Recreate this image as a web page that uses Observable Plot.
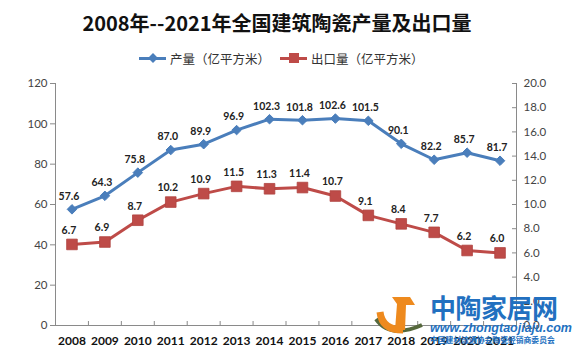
<!DOCTYPE html>
<html><head><meta charset="utf-8">
<script src="https://cdn.jsdelivr.net/npm/d3@7"></script>
<script src="https://cdn.jsdelivr.net/npm/@observablehq/plot@0.6"></script>
<style>
body{margin:0;background:#fff;width:572px;height:362px;overflow:hidden;position:relative;font-family:Lato,"Noto Sans CJK SC",sans-serif;}
#title{position:absolute;left:0;top:9px;width:554px;text-align:center;font-weight:bold;font-size:20px;font-family:"Noto Sans CJK SC",sans-serif;color:#111;line-height:28px;white-space:nowrap;}
#legend{position:absolute;left:139px;top:49px;height:18px;display:flex;align-items:center;font-size:12.5px;font-family:"Noto Sans CJK SC",sans-serif;color:#333;white-space:nowrap;}
.sw{position:relative;width:27px;height:3px;margin-right:4px;}
.mk{position:absolute;left:50%;top:50%;}
#chart{position:absolute;left:0;top:66px;}
#wm{position:absolute;left:430px;top:292px;color:#2270c0;pointer-events:none;}
#wm .big{font-family:"Noto Sans CJK SC",sans-serif;font-weight:bold;font-size:26px;line-height:30px;letter-spacing:-0.5px;}
#wm .url{font-family:"Liberation Sans",sans-serif;font-weight:bold;font-style:italic;font-size:12.5px;line-height:13px;}
#wm .small{font-family:"Noto Sans CJK SC",sans-serif;font-weight:bold;font-size:7.8px;line-height:10px;}
#logo{position:absolute;left:372px;top:292px;pointer-events:none;}
</style></head>
<body>
<div id="title">2008年--2021年全国建筑陶瓷产量及出口量</div>
<div id="legend"></div>
<div id="chart"></div>
<svg id="logo" width="60" height="50" viewBox="0 0 60 50">
  <path d="M4,27 Q18,47 50,33" fill="none" stroke="#55683c" stroke-width="4"/>
  <path d="M8,20 Q10,38 31,38" fill="none" stroke="#ee8a1e" stroke-width="7"/>
  <polygon points="20,5 38,5 43,13 34,13 33,38 23,38 25,12" fill="#ee8a1e"/>
</svg>
<div id="wm"><div class="big">中陶家居网</div><div class="url">www.zhongtaojiaju.com</div><div class="small">中国建材流通协会陶瓷经销商委员会</div></div>
<script>
const years = [2008,2009,2010,2011,2012,2013,2014,2015,2016,2017,2018,2019,2020,2021];
const production = [57.6,64.3,75.8,87.0,89.9,96.9,102.3,101.8,102.6,101.5,90.1,82.2,85.7,81.7];
const exportsVol = [6.7,6.9,8.7,10.2,10.9,11.5,11.3,11.4,10.7,9.1,8.4,7.7,6.2,6.0];
const leftTicks = [0,20,40,60,80,100,120];
const rightTicks = [0,2,4,6,8,10,12,14,16,18,20];
const seriesNames = ["产量（亿平方米）","出口量（亿平方米）"];
const colors = ["#4a7ebb","#be4b48"];

const ratio = 120 / 20; // right axis 0–20 aligned with left axis 0–120
const prodData = years.map((y,i)=>({year:y, value:production[i]}));
const expData = years.map((y,i)=>({year:y, value:exportsVol[i], scaled:exportsVol[i]*ratio}));
const xDomain = [years[0]-0.5, years[years.length-1]+0.5];
const boundaries = years.slice(0,-1).map(y=>y+0.5);

// legend
const leg = document.getElementById("legend");
seriesNames.forEach((n,i)=>{
  const sw = document.createElement("span");
  sw.className="sw"; sw.style.background=colors[i];
  const mk = document.createElement("span");
  mk.className="mk";
  if(i===0){mk.style.cssText+=`width:7px;height:7px;background:${colors[i]};transform:translate(-50%,-50%) rotate(45deg);`;}
  else {mk.style.cssText+=`width:10px;height:10px;background:${colors[i]};transform:translate(-50%,-50%);`;}
  sw.appendChild(mk);
  const t = document.createElement("span");
  t.textContent=n; t.style.marginRight = i===0 ? "10px":"0";
  leg.appendChild(sw); leg.appendChild(t);
});

const axisGray = "#8a8a8a";
const chart = Plot.plot({
  width:572, height:296,
  marginTop:17, marginBottom:37, marginLeft:55, marginRight:56,
  style:{fontFamily:"Lato, sans-serif", fontSize:"11px", background:"transparent"},
  x:{domain:xDomain},
  y:{domain:[0,120]},
  marks:[
    Plot.ruleY([0],{stroke:axisGray}),
    Plot.ruleX(xDomain,{stroke:axisGray}),
    Plot.axisY({ticks:leftTicks, tickSize:5, tickPadding:3, stroke:axisGray, fill:"#444", fontSize:11.5, label:null}),
    Plot.axisY({anchor:"right", ticks:rightTicks.map(v=>v*ratio), tickFormat:d=>(d/ratio).toFixed(1), tickSize:-5, tickPadding:12, stroke:axisGray, fill:"#444", fontSize:11.5, label:null}),
    Plot.axisX({ticks:years, tickSize:0, tickPadding:11, tickFormat:d=>String(d), fill:"#111", fontWeight:"bold", fontSize:12, label:null}),
    Plot.axisX({ticks:boundaries, tickSize:-4, stroke:axisGray, fill:"none", label:null}),
    Plot.line(prodData,{x:"year", y:"value", stroke:colors[0], strokeWidth:3}),
    Plot.dot(prodData,{x:"year", y:"value", symbol:"diamond2", r:4.3, fill:colors[0], stroke:colors[0], strokeWidth:1}),
    Plot.line(expData,{x:"year", y:"scaled", stroke:colors[1], strokeWidth:3}),
    Plot.dot(expData,{x:"year", y:"scaled", symbol:"square", r:6, fill:colors[1], stroke:"#b04440", strokeWidth:0.8}),
    Plot.text(prodData,{x:"year", y:"value", text:d=>d.value.toFixed(1), dy:-13, dx:-3, fontWeight:"bold", fontSize:10.5, fill:"#222"}),
    Plot.text(expData,{x:"year", y:"scaled", text:d=>d.value.toFixed(1), dy:-14, dx:-3, fontWeight:"bold", fontSize:10.5, fill:"#222"})
  ]
});
document.getElementById("chart").appendChild(chart);
</script>
</body></html>
